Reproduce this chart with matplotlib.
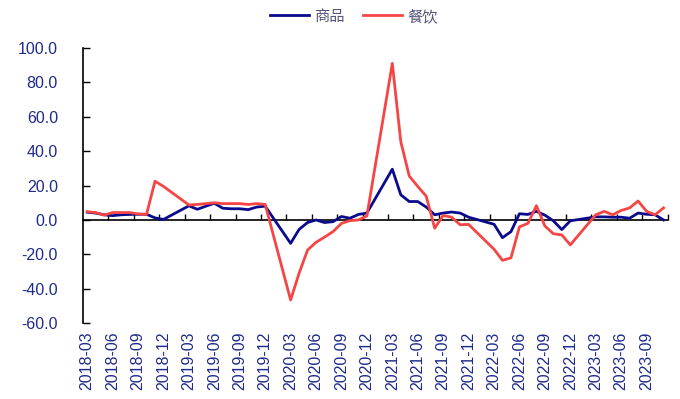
import numpy as np
import matplotlib
matplotlib.use("Agg")
import matplotlib.pyplot as plt

# Monthly growth (%), 2018-03 .. 2023-11; Jan/Feb not published -> NaN
months = [f"{y}-{m:02d}" for y in range(2018, 2024) for m in range(1, 13)][2:-1]

nan = np.nan
goods = [4.5, 4.0, 3.0, 2.5, 3.0, 3.2, 3.3, 3.3, 1.2, 0.3,
         nan, nan, 8.2, 6.2, 8.0, 9.7, 6.8, 6.5, 6.5, 6.0, 7.5, 8.0,
         nan, nan, -13.6, -5.5, -1.5, 0.0, -1.5, -1.0, 2.0, 1.0, 3.2, 4.0,
         nan, nan, 29.5, 14.6, 10.7, 10.7, 7.5, 3.0, 4.0, 4.6, 4.0, 1.6,
         nan, nan, -2.5, -10.3, -6.8, 3.6, 3.2, 5.0, 2.8, -0.5, -5.6, -0.5,
         nan, nan, 1.8, 1.8, 1.6, 1.6, 1.0, 4.0, 3.3, 3.0, 0.0]
catering = [4.8, 4.3, 2.8, 4.3, 4.3, 4.3, 3.5, 3.2, 22.5, 19.5,
            nan, nan, 8.7, 9.0, 9.5, 10.0, 9.5, 9.5, 9.5, 9.0, 9.5, 9.0,
            nan, nan, -46.5, -31.0, -17.5, -13.0, -10.0, -6.8, -2.0, -0.4, 0.0, 2.3,
            nan, nan, 91.0, 45.5, 25.5, 19.5, 13.8, -4.8, 2.6, 1.6, -2.8, -2.6,
            nan, nan, -17.0, -23.5, -22.0, -4.0, -2.0, 8.3, -3.5, -8.0, -8.7, -14.5,
            nan, nan, 3.0, 5.0, 3.0, 5.5, 7.0, 11.0, 5.0, 3.0, 7.0]

legend_names = ["商品", "餐饮"]
line_colors = ["#0a0a8c", "#f54545"]
yticks = [-60, -40, -20, 0, 20, 40, 60, 80, 100]

plt.rcParams['font.family'] = ['Liberation Sans', 'Noto Sans CJK SC', 'DejaVu Sans']
label_color = "#1f2a8c"

fig = plt.figure(figsize=(6.8, 3.99), dpi=100)
ax = fig.add_axes([0.122, 0.19, 0.860, 0.69])

x = np.arange(len(months))
for series, name, col in zip([goods, catering], legend_names, line_colors):
    s = np.array(series, dtype=float)
    ok = ~np.isnan(s)
    # missing months are skipped, so the line joins the neighbours
    ax.plot(x[ok], s[ok], color=col, lw=2.0, label=name)

ax.set_xlim(-0.5, len(months) - 0.5)
ax.set_ylim(yticks[0], yticks[-1])

# y axis
ax.set_yticks(yticks)
ax.set_yticklabels([f"{v:.1f}" for v in yticks])
ax.tick_params(axis='y', direction='in', length=5, width=1, pad=18,
               labelsize=11.5, labelcolor=label_color)
ax.spines['left'].set_linewidth(1.2)
for side in ['top', 'right', 'bottom']:
    ax.spines[side].set_visible(False)

# category labels at the bottom, every third month
ax.set_xticks(x[::3])
ax.set_xticklabels(months[::3], rotation=90)
ax.tick_params(axis='x', length=0, pad=6, labelsize=11.5, labelcolor=label_color)

# zero line with tick marks between categories
zero_frac = (0 - yticks[0]) / (yticks[-1] - yticks[0])
sec = ax.secondary_xaxis(zero_frac)
sec.set_xticks(np.arange(2.5, len(months), 3))
sec.tick_params(axis='x', direction='in', length=4, width=1, labelbottom=False)
sec.spines['bottom'].set_linewidth(1.2)

fig.legend(loc='upper center', bbox_to_anchor=(0.52, 1.015), ncol=2, frameon=False,
           handlelength=2.6, handletextpad=0.3, columnspacing=1.2,
           prop={'family': ['Noto Sans CJK SC'], 'size': 11}, labelcolor="#55557a")

fig.savefig("out.png", dpi=100)
